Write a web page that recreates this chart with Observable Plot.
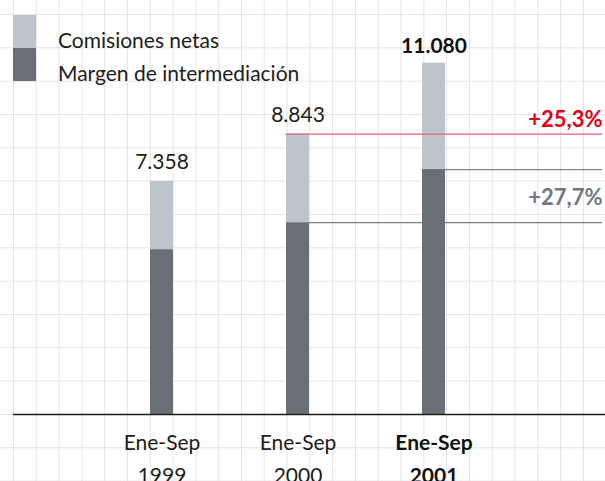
<!DOCTYPE html>
<html>
<head>
<meta charset="utf-8">
<script src="https://cdn.jsdelivr.net/npm/d3@7"></script>
<script src="https://cdn.jsdelivr.net/npm/@observablehq/plot@0.6"></script>
<style>
  html, body { margin: 0; padding: 0; background: #fff; }
  #wrap {
    position: relative; width: 605px; height: 481px; overflow: hidden;
    background-color: #fff;
    background-image:
      linear-gradient(to right, #e4e4e4 1px, transparent 1px),
      linear-gradient(to bottom, #e4e4e4 1px, transparent 1px);
    background-size: 22.8px 33.33px;
    background-position: 13px 14px;
    font-family: Lato, sans-serif;
  }
  #wrap svg { position: absolute; left: 0; top: 0; background: transparent; overflow: visible; }
  .legend { position: absolute; left: 0; top: 0; }
  .sw { position: absolute; left: 13px; width: 23px; height: 33px; }
  .lt { position: absolute; left: 58px; font-size: 21px; line-height: 1.2; color: #1d1d1b; white-space: nowrap; }
</style>
</head>
<body>
<div id="wrap"></div>
<script>
// ---- data ----
const years = ["1999", "2000", "2001"];
const tickLabels = ["Ene-Sep\n1999", "Ene-Sep\n2000", "Ene-Sep\n2001"];
const boldYear = "2001";
const seriesNames = ["Margen de intermediación", "Comisiones netas"];
const margen = [5200, 6050, 7725];
const comisiones = [2158, 2793, 3355];
const totals = [7358, 8843, 11080];
const growthLabels = ["+25,3%", "+27,7%"];

const colors = {"Margen de intermediación": "#6a6e76", "Comisiones netas": "#bec4cb"};
const fmt = d3.formatLocale({decimal: ",", thousands: ".", grouping: [3]}).format(",");

const long = [];
years.forEach((y, i) => {
  long.push({year: y, serie: seriesNames[0], value: margen[i]});
  long.push({year: y, serie: seriesNames[1], value: comisiones[i]});
});
const totalRows = years.map((y, i) => ({year: y, total: totals[i], bold: y === boldYear}));
const tickRows = years.map((y, i) => ({year: y, label: tickLabels[i], bold: y === boldYear}));

const W = 605, H = 481;
const M = {left: 13, right: 0, top: 62.65, bottom: 67};
const xOpts = {type: "band", domain: years, range: [92.5, 501.5], paddingInner: 0.8313, paddingOuter: 0.4156};
// x scale, used to start the reference lines at the edges of the bars
const xs = Plot.scale({x: xOpts});
const bw = xs.bandwidth;
const leftEdge = y => xs.apply(y) - M.left;
const rightEdge = y => xs.apply(y) + bw - M.left;

const refRule = (value, startInset, color, sw) =>
  Plot.ruleY([value], {stroke: color, strokeWidth: sw, insetLeft: startInset, insetRight: 3});

const plot = Plot.plot({
  width: W, height: H,
  marginLeft: M.left, marginRight: M.right, marginTop: M.top, marginBottom: M.bottom,
  x: {...xOpts, axis: null},
  y: {domain: [0, 11080], axis: null},
  color: {domain: seriesNames, range: seriesNames.map(s => colors[s])},
  style: {background: "transparent", fontFamily: "Lato, sans-serif", overflow: "visible"},
  marks: [
    refRule(margen[1], rightEdge("2000"), "#7d8087", 1.2),
    refRule(margen[2], rightEdge("2001"), "#7d8087", 1.2),
    Plot.barY(long, {x: "year", y: "value", fill: "serie", order: seriesNames}),
    refRule(totals[1], leftEdge("2000"), "#e8627a", 1.3),
    Plot.ruleY([0], {stroke: "#1d1d1b", strokeWidth: 1.3}),
    Plot.text(totalRows.filter(d => !d.bold), {x: "year", y: "total", text: d => fmt(d.total), lineAnchor: "bottom", dy: -12, fontSize: 21, fill: "#1d1d1b"}),
    Plot.text(totalRows.filter(d => d.bold), {x: "year", y: "total", text: d => fmt(d.total), lineAnchor: "bottom", dy: -10, fontSize: 21, fontWeight: "bold", fill: "#111"}),
    Plot.text(tickRows.filter(d => !d.bold), {x: "year", text: "label", frameAnchor: "bottom", lineAnchor: "top", dy: 12.5, lineHeight: 1.571, fontSize: 21, fill: "#1d1d1b"}),
    Plot.text(tickRows.filter(d => d.bold), {x: "year", text: "label", frameAnchor: "bottom", lineAnchor: "top", dy: 12.5, lineHeight: 1.571, fontSize: 21, fontWeight: "bold", fill: "#111"}),
    Plot.text([totals[1]], {y: d => d, text: () => growthLabels[0], frameAnchor: "right", textAnchor: "end", lineAnchor: "bottom", dx: -3, dy: -7, fontSize: 22, fontWeight: "bold", fill: "#e2001a"}),
    Plot.text([(margen[1] + margen[2]) / 2], {y: d => d, text: () => growthLabels[1], frameAnchor: "right", textAnchor: "end", lineAnchor: "middle", dx: -3, dy: 2, fontSize: 22, fontWeight: "bold", fill: "#72767d"})
  ]
});

const wrap = document.getElementById("wrap");
wrap.appendChild(plot);

// legend (stacked swatches, as in the original)
const legend = document.createElement("div");
legend.className = "legend";
const legendItems = [
  {name: seriesNames[1], top: 15, textTop: 27.3},
  {name: seriesNames[0], top: 48, textTop: 60.3}
];
legendItems.forEach(it => {
  const sw = document.createElement("div");
  sw.className = "sw";
  sw.style.top = it.top + "px";
  sw.style.background = colors[it.name];
  legend.appendChild(sw);
  const t = document.createElement("div");
  t.className = "lt";
  t.style.top = it.textTop + "px";
  t.textContent = it.name;
  legend.appendChild(t);
});
wrap.appendChild(legend);
</script>
</body>
</html>
